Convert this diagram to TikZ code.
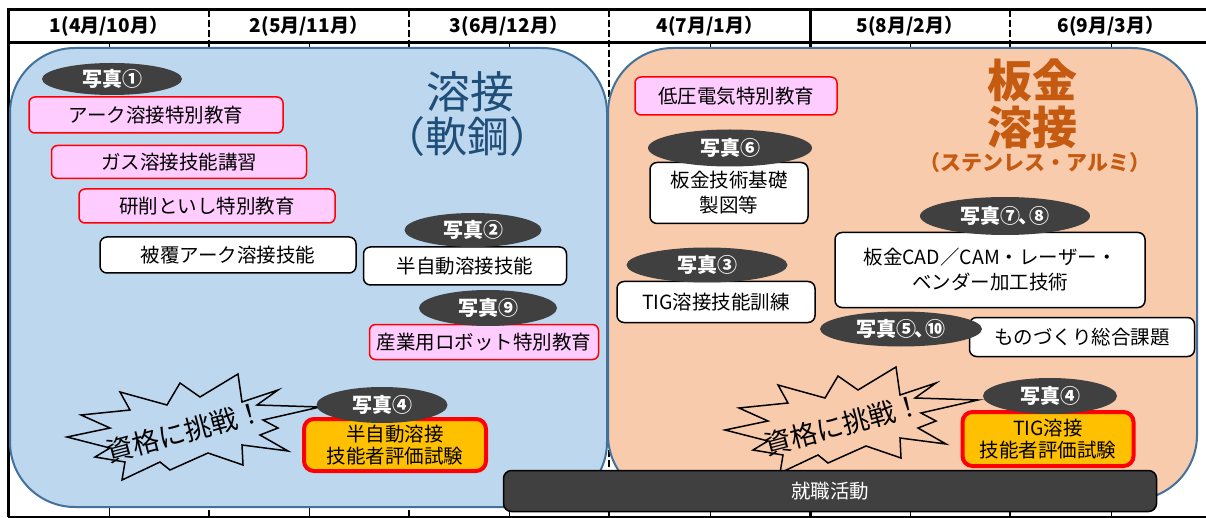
\documentclass[tikz,border=0pt]{standalone}
\usepackage{fontspec}
\setmainfont{Noto Sans CJK JP}
\usetikzlibrary{shapes.geometric}
\definecolor{regAfill}{HTML}{BDD7EE}
\definecolor{regBfill}{HTML}{F8CBAD}
\definecolor{regline}{HTML}{41719C}
\definecolor{titleAcol}{HTML}{1F4E79}
\definecolor{titleBcol}{HTML}{C55A11}
\definecolor{pinkfill}{HTML}{FFCCFF}
\definecolor{redline}{HTML}{FF0000}
\definecolor{examfill}{HTML}{FFC000}
\definecolor{darkfill}{HTML}{404040}
\tikzset{
  gridthick/.style={line width=3pt},
  griddash/.style={line width=2.5pt, dash pattern=on 7pt off 3pt},
  gridthin/.style={line width=0.8pt},
  hdr/.style={font=\fontsize{19}{21}\selectfont\bfseries, inner sep=0pt},
  region/.style={draw=regline, line width=2pt, rounded corners=65pt, inner sep=0pt},
  boxtext/.style={font=\fontsize{19.5}{25}\selectfont, align=center, inner sep=0pt},
  pinkbox/.style={boxtext, draw=redline, line width=1.5pt, fill=pinkfill, rounded corners=6pt},
  whitebox/.style={boxtext, draw=black, line width=1.5pt, fill=white, rounded corners=7pt},
  exambox/.style={boxtext, font=\fontsize{19.5}{22}\selectfont, draw=redline, line width=4pt, fill=examfill, rounded corners=10pt},
  jobbox/.style={boxtext, draw=black, line width=1.5pt, fill=darkfill, text=white, rounded corners=8pt},
  photo/.style={ellipse, fill=darkfill, text=white, inner sep=0pt, font=\fontsize{20}{22}\selectfont\bfseries},
  bursttext/.style={font=\fontsize{27}{29}\selectfont, inner sep=0pt, rotate=15},
  burstshape/.pic={
    \draw[line width=1.5pt, line join=miter]
      (67,437) -- (110,428) -- (81,415) -- (130,410) -- (120,392) -- (167,405)
      -- (180,383) -- (200,397) -- (238,374) -- (242,402) -- (278,390) -- (257,405)
      -- (320,407) -- (263,420) -- (278,428) -- (260,435) -- (288,451) -- (242,445)
      -- (243,465) -- (208,453) -- (170,470) -- (160,462) -- (122,480) -- (125,462)
      -- (95,457) -- (110,448) -- cycle;
  }
}
\newcommand{\jpcomma}{\kern-.1em、\kern-.45em}
\begin{document}
\begin{tikzpicture}[x=1pt,y=-1pt]
\useasboundingbox (0,0) rectangle (1206,518);
\fill[white] (0,0) rectangle (1206,518);

% table grid
\foreach \x in {109,309,509,710,910,1111} \draw[gridthin] (\x,43) -- (\x,517);
\foreach \x in {209,409,609,1010} \draw[griddash] (\x,10) -- (\x,517);
\draw[gridthick] (810,10) -- (810,517);
\draw[gridthick] (8,10) -- (1206,10);
\draw[gridthick] (8,43) -- (1206,43);
\draw[gridthick] (8,8.5) -- (8,517);
\draw[line width=2pt] (8,516.5) -- (1206,516.5);

\node[hdr] (h1) at (109,26) {1(4月/10月）};
\node[hdr] (h2) at (309,26) {2(5月/11月）};
\node[hdr] (h3) at (509,26) {3(6月/12月）};
\node[hdr] (h4) at (710,26) {4(7月/1月）};
\node[hdr] (h5) at (910,26) {5(8月/2月）};
\node[hdr] (h6) at (1111,26) {6(9月/3月）};

% regions
\node[region, fill=regAfill, minimum width=597pt, minimum height=459pt] (regA) at (308.5,277.5) {};
\node[region, fill=regBfill, minimum width=589pt, minimum height=452pt] (regB) at (902.5,274) {};

% titles
\node[font=\fontsize{44}{46}\selectfont, text=titleAcol, inner sep=0pt] (tA1) at (470,92) {溶接};
\node[font=\fontsize{42}{44}\selectfont, text=titleAcol, inner sep=0pt] (tA2) at (467,137) {（軟鋼）};
\node[font=\fontsize{45}{47}\selectfont\bfseries, text=titleBcol, inner sep=0pt] (tB1) at (1032,80) {板金};
\node[font=\fontsize{45}{47}\selectfont\bfseries, text=titleBcol, inner sep=0pt] (tB2) at (1032,127) {溶接};
\node[font=\fontsize{21}{23}\selectfont\bfseries, text=titleBcol, inner sep=0pt] (tB3) at (1035,163) {（ステンレス・アルミ）};

% left region boxes
\node[pinkbox, minimum width=254pt, minimum height=36pt] (b1) at (156,115) {アーク溶接特別教育};
\node[pinkbox, minimum width=255pt, minimum height=33pt] (b2) at (179,162) {ガス溶接技能講習};
\node[pinkbox, minimum width=256pt, minimum height=34pt] (b3) at (207,206) {研削といし特別教育};
\node[whitebox, minimum width=256pt, minimum height=36pt] (b4) at (228,255) {被覆アーク溶接技能};
\node[whitebox, minimum width=203pt, minimum height=38pt] (b5) at (465,266) {半自動溶接技能};
\node[pinkbox, minimum width=229pt, minimum height=35pt] (b6) at (484,342) {産業用ロボット特別教育};
\node[exambox, minimum width=182pt, minimum height=52pt] (e1) at (395,445) {半自動溶接\\技能者評価試験};

\node[photo, minimum width=140pt, minimum height=32pt] (p1) at (112,79) {写真①};
\node[photo, minimum width=137pt, minimum height=34pt] (p2) at (473,230) {写真②};
\node[photo, minimum width=138pt, minimum height=36pt] (p9) at (488,308) {写真⑨};

% right region boxes
\node[pinkbox, minimum width=202pt, minimum height=38pt] (b7) at (736,96) {低圧電気特別教育};
\node[whitebox, minimum width=158pt, minimum height=61pt] (b8) at (729,193) {板金技術基礎\\製図等};
\node[whitebox, minimum width=198pt, minimum height=41pt] (b9) at (716,302) {TIG溶接技能訓練};
\node[whitebox, minimum width=310pt, minimum height=75pt] (b10) at (990,270) {板金CAD／CAM・レーザー・\\ベンダー加工技術};
\node[whitebox, minimum width=225pt, minimum height=39pt] (b11) at (1082,337) {ものづくり総合課題};
\node[exambox, minimum width=171pt, minimum height=54pt] (e2) at (1048,439) {TIG溶接\\技能者評価試験};

\node[photo, minimum width=164pt, minimum height=37pt] (p6) at (730,148) {写真⑥};
\node[photo, minimum width=161pt, minimum height=35pt] (p3) at (707,265) {写真③};
\node[photo, minimum width=170pt, minimum height=38pt] (p78) at (1005,216) {写真⑦\jpcomma⑧};
\node[photo, minimum width=162pt, minimum height=35pt] (p510) at (901,329) {写真⑤\jpcomma⑩};

% bursts
\pic at (0,0) {burstshape};
\pic at (658,-7) {burstshape};
\node[bursttext] (ch1) at (185,432) {資格に挑戦！};
\node[bursttext] (ch2) at (843,425) {資格に挑戦！};

\node[photo, minimum width=131pt, minimum height=36pt] (p4a) at (382,405) {写真④};
\node[photo, minimum width=134pt, minimum height=36pt] (p4b) at (1050,396) {写真④};

% job hunting bar
\node[jobbox, minimum width=653pt, minimum height=41pt] (job) at (830,491) {就職活動};
\end{tikzpicture}
\end{document}
